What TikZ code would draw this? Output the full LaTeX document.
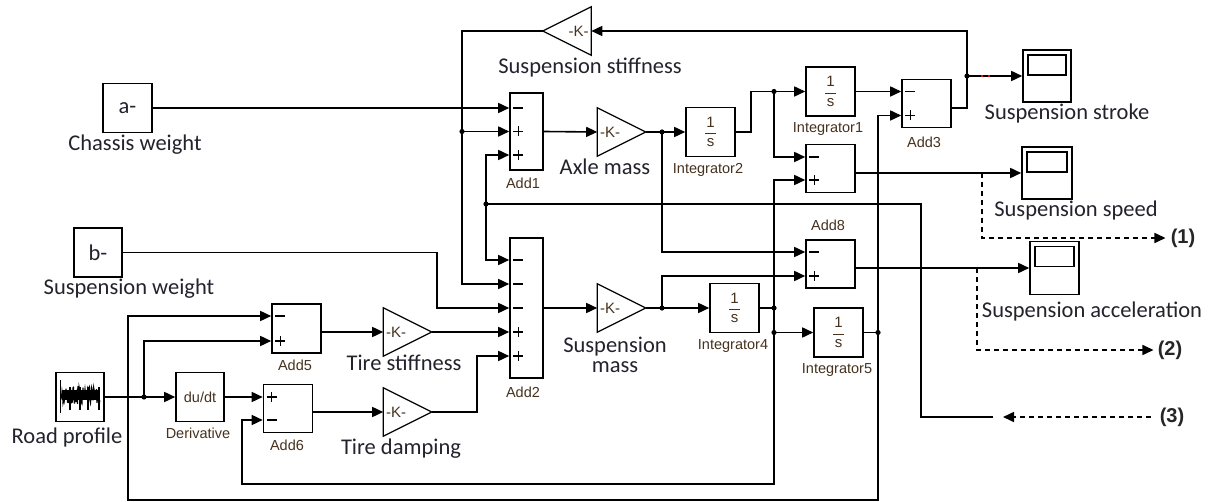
\documentclass[tikz,border=0pt]{standalone}
\usepackage{fontspec}
\setmainfont{Carlito}
\newfontfamily\arialfont{Liberation Sans}
\usetikzlibrary{arrows.meta}

\definecolor{lblcol}{RGB}{35,35,45}
\definecolor{namecol}{RGB}{70,50,30}

\tikzset{
  blkbox/.style={draw, line width=1.6pt, inner sep=0pt, minimum width=49, minimum height=49,
    font=\arialfont\fontsize{14.5}{16}\selectfont, text=namecol},
  srcbox/.style={blkbox, font=\fontsize{22.5}{24}\selectfont, text=lblcol},
  intbox/.style={blkbox, align=center, font=\arialfont\fontsize{15}{11}\selectfont},
  scopebox/.style={blkbox, minimum width=48, minimum height=52},
  gainR/.style={inner sep=0pt, inner xsep=2pt, minimum width=47, minimum height=47,
    text width=43, align=left, font=\arialfont\fontsize{15}{16}\selectfont, text=namecol},
  gainL/.style={gainR, align=right},
  blkname/.style={inner sep=0pt, font=\arialfont\fontsize{14.5}{16}\selectfont, text=namecol},
  biglbl/.style={inner sep=0pt, font=\fontsize{22.5}{24}\selectfont, text=lblcol},
  portlbl/.style={inner sep=0pt, font=\arialfont\bfseries\fontsize{20}{22}\selectfont, text=black!85},
  sig/.style={-{Triangle[length=11pt,width=10pt]}},
  dsig/.style={sig, dash pattern=on 5pt off 4pt},
  sgn/.style={line width=1.4pt}
}
% + and - marks at the input ports of a sum block
\newcommand{\sgnp}[2]{\draw[sgn] ([xshift=4pt,yshift=#2]#1.west) -- ++(10,0)
  ([xshift=9pt,yshift=#2+5pt]#1.west) -- ++(0,10);}
\newcommand{\sgnm}[2]{\draw[sgn] ([xshift=4pt,yshift=#2]#1.west) -- ++(10,0);}

\begin{document}
\begin{tikzpicture}[x=1pt,y=-1pt,line width=1.6pt]
\useasboundingbox (0,0) rectangle (1214,502);
\fill[white] (0,0) rectangle (1214,502);

% sources
\node[srcbox] (cw) at (127.5,108) {a-};
\node[srcbox, minimum width=48] (sw) at (98,252.5) {b-};
\node[blkbox, minimum width=48] (road) at (80,397) {};
\node[blkbox, minimum width=48] (deriv) at (200,397) {du/dt};

% sums
\node[blkbox, minimum width=33, minimum height=77] (add1) at (526.5,131.5) {};
\node[blkbox, minimum width=33, minimum height=140] (add2) at (526.5,308) {};
\node[blkbox, minimum height=48] (add3) at (926.5,103.5) {};
\node[blkbox, minimum height=48] (add7) at (830.5,168.5) {};
\node[blkbox, minimum height=48] (add8) at (830.5,264) {};
\node[blkbox, minimum height=49] (add5) at (296.5,328.5) {};
\node[blkbox, minimum height=48] (add6) at (288,408.5) {};

% integrators
\node[intbox] (int1) at (830.5,91.5) {1\\[-4pt]\rule{11pt}{1.2pt}\\[1.5pt]s};
\node[intbox] (int2) at (710.5,132) {1\\[-4pt]\rule{11pt}{1.2pt}\\[1.5pt]s};
\node[intbox] (int4) at (734.5,308) {1\\[-4pt]\rule{11pt}{1.2pt}\\[1.5pt]s};
\node[intbox] (int5) at (838.5,332.5) {1\\[-4pt]\rule{11pt}{1.2pt}\\[1.5pt]s};

% gains
\node[gainL] (kss) at (567,31) {-K-};
\node[gainR] (axle) at (621.5,132) {-K-};
\node[gainR] (smass) at (621.5,308) {-K-};
\node[gainR] (tstiff) at (407.5,332) {-K-};
\node[gainR] (tdamp) at (407.5,412) {-K-};
\foreach \g in {axle,smass,tstiff,tdamp}
  \draw[line width=1.2pt] (\g.north west) -- (\g.east) -- (\g.south west) -- cycle;
\draw[line width=1.2pt] (kss.north east) -- (kss.west) -- (kss.south east) -- cycle;

% scopes
\node[scopebox] (sstroke) at (1047,76) {};
\node[scopebox, minimum width=50] (sspeed) at (1047,173) {};
\node[scopebox, minimum width=49, minimum height=53] (saccel) at (1054.5,268) {};
\foreach \s in {sstroke,sspeed,saccel}
  \draw ([xshift=5.5pt,yshift=-6pt]\s.north west) rectangle ([xshift=-6pt,yshift=-26pt]\s.north east);

% road profile icon
\begin{scope}[shift={(road.center)}, line width=1pt]
  \draw (-20,-17) -- (-20,16);
  \pgfmathsetseed{7}
  \draw (-19,-2) \foreach \i in {-18.5,-18,...,20}{ -- (\i,{-2+9*rand})};
  \fill (-18,-7) rectangle (20,3);
  \foreach \i in {-10,0,8,19} \draw[line width=1.6pt] (\i,-10) -- (\i,13);
\end{scope}

% signs
\sgnm{add1}{23.5pt} \sgnp{add1}{0pt} \sgnp{add1}{-23.5pt}
\sgnm{add2}{48pt} \sgnm{add2}{24pt} \sgnm{add2}{0pt} \sgnp{add2}{-24pt} \sgnp{add2}{-48pt}
\sgnm{add3}{12pt} \sgnp{add3}{-12pt}
\sgnm{add7}{11.5pt} \sgnp{add7}{-11.5pt}
\sgnm{add8}{12pt} \sgnp{add8}{-12pt}
\sgnm{add5}{12.5pt} \sgnp{add5}{-12.5pt}
\sgnp{add6}{11.5pt} \sgnm{add6}{-11.5pt}

% labels
\node[biglbl] (cwlbl) at (135,145) {Chassis weight};
\node[biglbl] (swlbl) at (129,289) {Suspension weight};
\node[biglbl] (roadlbl) at (67,437) {Road profile};
\node[blkname] (derivlbl) at (198,433) {Derivative};
\node[blkname] (add5lbl) at (295,365) {Add5};
\node[blkname] (add6lbl) at (287,445) {Add6};
\node[biglbl] (tslbl) at (404,363) {Tire stiffness};
\node[biglbl] (tdlbl) at (401,449) {Tire damping};
\node[biglbl] (ksslbl) at (590,68) {Suspension stiffness};
\node[blkname] (add1lbl) at (523,183) {Add1};
\node[biglbl] (axlelbl) at (605,167) {Axle mass};
\node[blkname] (int2lbl) at (708,170) {Integrator2};
\node[blkname] (add2lbl) at (523,392) {Add2};
\node[biglbl, align=center, font=\fontsize{22.5}{20}\selectfont] (smasslbl) at (615,355) {Suspension\\mass};
\node[blkname] (int4lbl) at (733,346) {Integrator4};
\node[blkname] (int1lbl) at (828,129) {Integrator1};
\node[blkname] (add3lbl) at (924,142) {Add3};
\node[blkname] (add8lbl) at (828,225) {Add8};
\node[blkname] (int5lbl) at (837,370) {Integrator5};
\node[biglbl] (strokelbl) at (1067,114) {Suspension stroke};
\node[biglbl] (speedlbl) at (1076,211) {Suspension speed};
\node[biglbl] (accellbl) at (1092,312) {Suspension acceleration};
\node[portlbl] (lab1) at (1183,238) {(1)};
\node[portlbl] (lab2) at (1170,350) {(2)};
\node[portlbl] (lab3) at (1172,417) {(3)};

% branch points
\coordinate (j3) at (967,76);
\coordinate (k1) at (462,131.5);
\coordinate (k3) at (486,204);
\coordinate (c3) at (921,204);
\coordinate (in3) at (993,417);
\coordinate (k2) at (662,132);
\coordinate (k6) at (662,308);
\coordinate (k7) at (774,91.5);
\coordinate (k4) at (774,308);
\coordinate (k4b) at (774,332.5);
\coordinate (k5) at (878,332.5);
\coordinate (k0) at (144,397);
\coordinate (b5) at (128,500);
\coordinate (b4) at (242,484);
\coordinate (t1) at (982,173);
\coordinate (t2) at (977,268);

% weights and stiffness feedback
\draw[sig] (cw.east) -- (cw.east -| add1.west);
\draw[sig] ([yshift=-4.5pt]add3.east) -| (j3) |- (kss.east);
\draw[sig] (j3) -- (sstroke.west);
\draw[red, dash pattern=on 2pt off 5pt] ([xshift=14pt]j3) -- ++(12,0);
\draw[sig] (kss.west) -| (k1) |- ([yshift=24pt]add2.west);
\draw[sig] (k1) -- (k1 -| add1.west);
\draw (in3) -| (c3) -- (k3);
\draw[sig] (k3) |- ([yshift=-23.5pt]add1.west);
\draw[sig] (k3) |- ([yshift=48pt]add2.west);
\draw[dsig] ([xshift=-8pt]lab3.west) -- ([xshift=10pt]in3);
\draw[sig] (sw.east) -| ([xshift=-72pt]add2.west) -- (add2.west);

% tire
\draw[sig] (road.east) -- (deriv.west);
\draw[sig] (k0) |- ([yshift=-12.5pt]add5.west);
\draw[sig] (k5) |- (b5) |- ([yshift=12.5pt]add5.west);
\draw[sig] (deriv.east) -- (deriv.east -| add6.west);
\draw[sig] (k4b) |- (b4) |- ([yshift=-11.5pt]add6.west);
\draw[sig] (add5.east |- tstiff) -- (tstiff.west);
\draw[sig] (add6.east |- tdamp) -- (tdamp.west);
\draw[sig] (tstiff.east) -- (tstiff.east -| add2.west);
\draw[sig] (tdamp.east) -| ([xshift=-32pt,yshift=-48pt]add2.west) -- ([yshift=-48pt]add2.west);

% masses and integrators
\draw[sig] (add1.east) -- (axle.west);
\draw (axle.east) -- (k2);
\draw[sig] (k2) -- (int2.west);
\draw[sig] (k2) |- ([yshift=12pt]add8.west);
\draw[sig] (add2.east) -- (smass.west);
\draw (smass.east) -- (k6);
\draw[sig] (k6) -- (int4.west);
\draw[sig] (k6) |- ([yshift=-12pt]add8.west);
\draw (int2.east) -- ++(15,0) |- (k7);
\draw[sig] (k7) -- (int1.west);
\draw[sig] (k7) |- ([yshift=11.5pt]add7.west);
\draw[sig] (int1.east) -- (int1.east -| add3.west);
\draw (int4.east) -- (k4) -- (k4b);
\draw[sig] (k4) |- ([yshift=-11.5pt]add7.west);
\draw[sig] (k4b) -- (int5.west);
\draw (int5.east) -- (k5);
\draw[sig] (k5) |- ([yshift=-12pt]add3.west);

% outputs
\draw[sig] (add7.east |- sspeed) -- (sspeed.west);
\draw[sig] (add8.east |- saccel) -- (saccel.west);
\draw[dsig] (t1) |- ([xshift=-4.5pt]lab1.west);
\draw[dsig] (t2) |- ([xshift=-3.5pt]lab2.west);

\foreach \p in {j3,k1,k3,k2,k6,k7,k4,k4b,k5,k0}
  \fill (\p) circle[radius=2.6pt];
\end{tikzpicture}
\end{document}
